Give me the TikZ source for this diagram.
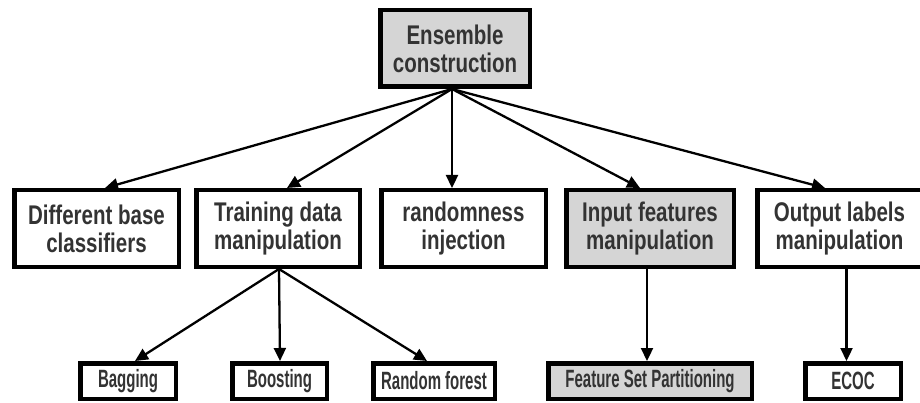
\documentclass[tikz,border=0pt]{standalone}
\usepackage{fontspec}
\setmainfont{Liberation Sans}
\newfontfamily\midfont{Liberation Sans}[FakeStretch=0.76]
\newfontfamily\lowfont{Liberation Sans}[FakeStretch=0.6]
\usetikzlibrary{arrows.meta}
\definecolor{txtgray}{HTML}{333333}
\definecolor{boxgray}{HTML}{D5D5D5}
\tikzset{
  box/.style={draw=black, line width=4.5pt, inner sep=0pt, align=center, text=txtgray,
    font=\midfont\bfseries\fontsize{27}{28}\selectfont, minimum height=76.5pt},
  lowbox/.style={draw=black, line width=4.5pt, inner sep=0pt, align=center, text=txtgray,
    font=\lowfont\bfseries\fontsize{25}{26}\selectfont, minimum height=35.5pt},
  shaded/.style={fill=boxgray},
  arr/.style={draw=black, line width=2.3pt, -{Triangle[length=13pt,width=12pt]}}
}
\begin{document}
\begin{tikzpicture}[x=1pt,y=-1pt]
\useasboundingbox[fill=white] (0,0) rectangle (920,403);
% top
\node[box, shaded, minimum width=149.5pt] (top) at (455,48.5) {Ensemble\\construction};
% row 2
\node[box, minimum width=164.5pt] (b1) at (96.5,228.5) {Different base\\classifiers};
\node[box, minimum width=163.5pt] (b2) at (278,228.5) {Training data\\manipulation};
\node[box, minimum width=164.5pt] (b3) at (463.5,228.5) {randomness\\injection};
\node[box, shaded, minimum width=167.5pt] (b4) at (650,228.5) {Input features\\manipulation};
\node[box, minimum width=164.5pt] (b5) at (839.5,228.5) {Output labels\\manipulation};
% row 3
\node[lowbox, minimum width=95.5pt] (bag) at (128,381) {Bagging};
\node[lowbox, minimum width=94.5pt] (boost) at (279.5,381) {Boosting};
\node[lowbox, minimum width=121.5pt] (rf) at (434,381) {Random forest};
\node[lowbox, shaded, minimum width=203.5pt] (fsp) at (650,381) {Feature Set Partitioning};
\node[lowbox, minimum width=95.5pt] (ecoc) at (853,381) {ECOC};
% connectors
\coordinate (hub) at ([xshift=-3pt]top.south);
\draw[arr] (hub) -- ([xshift=8.5pt]b1.north);
\draw[arr] (hub) -- ([xshift=9pt]b2.north);
\draw[arr] (hub) -- ([xshift=-11.5pt]b3.north);
\draw[arr] (hub) -- ([xshift=-10pt]b4.north);
\draw[arr] (hub) -- ([xshift=-14.5pt]b5.north);
\coordinate (tdm) at ([xshift=1pt]b2.south);
\draw[arr] (tdm) -- ([xshift=7pt]bag.north);
\draw[arr] (tdm) -- ([xshift=0.5pt]boost.north);
\draw[arr] (tdm) -- ([xshift=-7pt]rf.north);
\draw[arr] ([xshift=-3pt]b4.south) -- ([xshift=-3pt]fsp.north);
\draw[arr] ([xshift=-6.5pt]ecoc.north |- b5.south) -- ([xshift=-6.5pt]ecoc.north);
\end{tikzpicture}
\end{document}
